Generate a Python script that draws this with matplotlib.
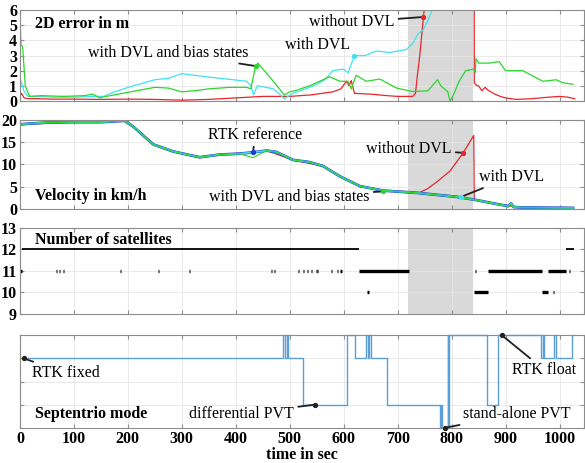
import numpy as np
import matplotlib
matplotlib.use('Agg')
import matplotlib.pyplot as plt

plt.rcParams['font.family'] = ['Liberation Serif', 'DejaVu Serif']
plt.rcParams['font.size'] = 11

# ---- 2D error in m ----
red_err_t = [0, 3, 8, 15, 30, 60, 100, 150, 200, 250, 300, 350, 400, 450, 500, 540, 580, 595,
             605, 610, 614, 620, 650, 680, 700, 728, 733, 736, 741, 745, 748, 752, 800, 841,
             842, 847, 850, 856, 862, 868, 880, 890, 900, 920, 950, 980, 1000, 1015, 1028]
red_err = [0.3, 0.5, 0.2, 0.15, 0.15, 0.12, 0.12, 0.1, 0.12, 0.1, 0.05, 0.1, 0.2, 0.3, 0.3, 0.4,
           0.6, 0.8, 1.3, 1.0, 1.35, 0.5, 0.45, 0.35, 0.3, 0.3, 0.5, 1.5, 3.0, 4.5, 5.6, 7.0, 20,
           40, 1.2, 1.0, 1.0, 0.67, 0.9, 0.7, 0.45, 0.3, 0.2, 0.1, 0.15, 0.25, 0.3, 0.25, 0.15]

cyan_err_t = [0, 3, 8, 15, 30, 60, 100, 140, 155, 175, 210, 250, 275, 300, 345, 395, 420, 428,
              433, 440, 470, 490, 506, 530, 550, 565, 580, 600, 608, 620, 640, 660, 685, 716,
              728, 737, 747, 756, 766, 775]
cyan_err = [1.5, 1.2, 0.6, 0.3, 0.3, 0.25, 0.25, 0.3, 0.3, 0.6, 1.0, 1.4, 1.5, 1.8, 1.6, 1.4,
            1.3, 1.0, 0.4, 1.0, 0.8, 0.15, 0.5, 0.8, 1.1, 1.4, 2.0, 2.1, 1.85, 3.0, 3.0, 3.3,
            3.2, 3.4, 3.8, 4.4, 4.7, 5.3, 6.2, 7.0]

green_err_t = [0, 2, 5, 10, 18, 40, 80, 120, 135, 148, 160, 190, 220, 250, 275, 300, 330, 350,
               390, 420, 428, 436, 441, 465, 490, 500, 512, 537, 574, 593, 608, 614, 623, 642,
               667, 698, 728, 756, 774, 780, 793, 797, 802, 814, 826, 841, 844, 845, 850, 870,
               888, 900, 932, 969, 994, 1006, 1025]
green_err = [6.0, 3.7, 3.6, 1.0, 0.3, 0.35, 0.3, 0.35, 0.45, 0.2, 0.3, 0.5, 0.7, 0.9, 0.85, 0.6,
             0.7, 0.8, 0.9, 0.9, 0.8, 2.2, 2.5, 1.5, 0.4, 0.6, 0.7, 1.0, 1.6, 1.3, 1.3, 0.8, 1.7,
             1.3, 1.45, 0.85, 0.62, 0.67, 1.4, 1.0, 0.6, 0.0, 0.3, 1.3, 2.0, 2.1, 1.85, 2.8, 2.5,
             2.5, 2.6, 2.0, 2.0, 1.3, 1.4, 1.2, 1.1]

# ---- velocity in km/h ----
vel_t = [0, 1, 10, 50, 100, 150, 194, 210, 247, 284, 333, 370, 407, 432, 457, 475, 506, 537,
         562, 593, 630, 673, 735, 809, 840, 883, 905, 910, 915, 930, 1025]
vel_ref = [19, 19, 19.1, 19.4, 19.5, 19.5, 19.8, 18.5, 14.5, 12.9, 11.6, 12.2, 12.4, 12.7, 13.1,
           12.8, 11.0, 10.5, 9.6, 7.3, 5.1, 4.1, 3.6, 2.7, 2.1, 1.1, 0.6, 1.2, 0.4, 0.3, 0.2]
vel_green = [0, 19, 19.1, 19.4, 19.5, 19.5, 19.8, 18.5, 14.5, 12.9, 11.6, 12.2, 12.4, 11.5, 13.1,
             12.8, 11.0, 10.5, 9.6, 7.3, 5.1, 4.1, 3.6, 2.7, 2.1, 1.1, 0.6, 1.0, 0.4, 0.3, 0.2]
red_vel_t = [0, 1, 100, 194, 210, 247, 284, 333, 370, 432, 457, 506, 562, 593, 630, 673, 738,
             755, 772, 797, 821, 841, 842, 883, 930, 1025]
red_vel = [19, 19, 19.5, 19.8, 18.5, 14.5, 12.9, 11.6, 12.2, 12.7, 13.1, 11.0, 9.6, 7.3, 5.1,
           4.1, 3.5, 4.5, 6.0, 8.5, 12.5, 16.5, 2.1, 1.1, 0.3, 0.2]

# ---- number of satellites: (start, end, count) ----
sat_start = [0, 4, 628, 841, 868, 968, 978, 1012]
sat_end = [4, 628, 721, 868, 968, 978, 1012, 1026]
sat_num = [11, 12, 11, 10, 11, 10, 11, 12]
sat_dot_t = [68, 74, 80, 186, 257, 314, 466, 471, 516, 526, 533, 540, 549, 552, 578, 588, 595,
             645, 845, 988, 1019]
sat_dot_n = [11, 11, 11, 11, 11, 11, 11, 11, 11, 11, 11, 11, 11, 11, 11, 11, 11, 10, 11, 10, 11]

# ---- Septentrio mode (0 stand-alone, 1 differential, 3 RTK fixed, 4 RTK float) ----
mode_t = [0, 487, 491, 495, 497, 525, 606, 621, 642, 645, 647, 650, 680, 779, 781, 782, 793,
          794, 796, 866, 886, 966, 969, 972, 990, 993, 1024, 1026]
mode = [3, 4, 3, 4, 3, 1, 4, 3, 4, 3, 4, 3, 1, 0, 1, 0, 4, 0, 4, 1, 4, 3, 4, 3, 4, 3, 4, 4]

RED = '#e8262b'
CYAN = '#3fe3f0'
GREEN = '#2bd62b'
BLUE = '#1f3bd0'
MODE_BLUE = '#5b9fd8'
SPINE = '#8c8c8c'
FS = 11.5


def style_axes(ax, shade=True):
    ax.set_xlim(0, 1045)
    ax.set_xticks(range(0, 1001, 100))
    ax.grid(True, color='#e6e6e6', lw=0.6)
    ax.set_axisbelow(True)
    if shade:
        ax.axvspan(720, 840, color='#d9d9d9', zorder=0.2, lw=0)
    ax.tick_params(direction='in', length=3, top=True, right=True, color=SPINE,
                   labelsize=11.5, pad=2)
    for lab in ax.get_yticklabels() + ax.get_xticklabels():
        lab.set_fontweight('bold')
    for s in ax.spines.values():
        s.set_color(SPINE)
        s.set_linewidth(0.8)


def pointer(ax, text, xy, xytext, ha='center', va='center', dot='#202020'):
    ax.annotate(text, xy=xy, xytext=xytext, ha=ha, va=va, fontsize=FS,
                arrowprops=dict(arrowstyle='-', color='#202020', lw=1.3,
                                shrinkA=1, shrinkB=0), zorder=5)
    ax.plot(*xy, 'o', color=dot, ms=2.8, zorder=6, clip_on=False)


fig = plt.figure(figsize=(5.85, 4.63), dpi=100)
left, width = 0.034, 0.964

# panel 1: 2D error
ax1 = fig.add_axes([left, 0.782, width, 0.196])
ax1.plot(red_err_t, red_err, color=RED, lw=0.9)
ax1.plot(cyan_err_t, cyan_err, color=CYAN, lw=0.9)
ax1.plot(green_err_t, green_err, color=GREEN, lw=0.9)
ax1.set_ylim(0, 6)
ax1.set_yticks(range(0, 7))
ax1.set_xticklabels([])
style_axes(ax1)
ax1.text(28, 5.1, '2D error in m', fontweight='bold', fontsize=FS, va='center')
pointer(ax1, 'with DVL and bias states', (438, 2.3), (423, 3.2), ha='right', dot=GREEN)
pointer(ax1, 'with DVL', (620, 3.0), (612, 3.7), ha='right', dot=CYAN)
pointer(ax1, 'without DVL', (747, 5.55), (694, 5.2), ha='right', dot=RED)

# panel 2: velocity
ax2 = fig.add_axes([left, 0.549, width, 0.192])
ax2.plot(red_vel_t, red_vel, color=RED, lw=0.9)
ax2.plot(vel_t, vel_ref, color=BLUE, lw=2.0)
ax2.plot(vel_t, vel_ref, color=CYAN, lw=1.2)
ax2.plot(vel_t, vel_green, color=GREEN, lw=0.8)
ax2.set_ylim(0, 20)
ax2.set_yticks(range(0, 21, 5))
ax2.set_xticklabels([])
style_axes(ax2)
ax2.text(28, 2.9, 'Velocity in km/h', fontweight='bold', fontsize=FS, va='center')
pointer(ax2, 'RTK reference', (432, 12.7), (436, 16.7), dot=BLUE)
pointer(ax2, 'without DVL', (822, 12.6), (800, 13.4), ha='right', dot=RED)
pointer(ax2, 'with DVL', (818, 2.7), (850, 7.2), ha='left', dot=CYAN)
pointer(ax2, 'with DVL and bias states', (672, 3.9), (648, 2.7), ha='right', dot=GREEN)

# panel 3: satellites
ax3 = fig.add_axes([left, 0.322, width, 0.186])
for t0, t1, n in zip(sat_start, sat_end, sat_num):
    ax3.plot([t0, t1], [n, n], color='k', lw=1.3 if n == 12 else 2.4, solid_capstyle='butt')
for t, n in zip(sat_dot_t, sat_dot_n):
    ax3.plot([t - 1, t + 1], [n, n], color='k', lw=2.4, solid_capstyle='butt')
ax3.set_ylim(9, 13)
ax3.set_yticks(range(9, 14))
ax3.set_xticklabels([])
style_axes(ax3)
ax3.text(28, 12.05, 'Number of satellites', fontweight='bold', fontsize=FS, va='bottom')

# panel 4: Septentrio mode
ax4 = fig.add_axes([left, 0.076, width, 0.2])
ax4.plot(mode_t, mode, color=MODE_BLUE, lw=1.0, drawstyle='steps-post', clip_on=False)
ax4.set_ylim(0, 4)
ax4.set_yticks([1, 2, 3])
ax4.set_yticklabels([])
style_axes(ax4, shade=False)
ax4.set_xlabel('time in sec', fontweight='bold', fontsize=11.5, labelpad=0)
ax4.text(28, 0.6, 'Septentrio mode', fontweight='bold', fontsize=FS, va='center')
pointer(ax4, 'RTK fixed', (7, 3), (22, 2.37), ha='left')
pointer(ax4, 'differential PVT', (546, 1), (508, 0.6), ha='right')
pointer(ax4, 'stand-alone PVT', (787, 0), (822, 0.6), ha='left')
pointer(ax4, 'RTK float', (893, 4), (972, 2.5))

fig.savefig('out.png', dpi=100)
